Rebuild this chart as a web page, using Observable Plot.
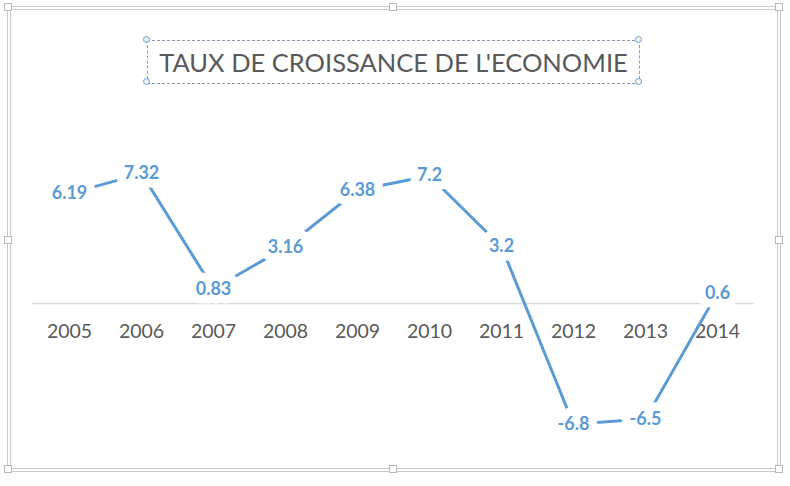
<!DOCTYPE html>
<html>
<head>
<meta charset="utf-8">
<script src="https://cdn.jsdelivr.net/npm/d3@7"></script>
<script src="https://cdn.jsdelivr.net/npm/@observablehq/plot@0.6"></script>
<style>
  html, body { margin: 0; padding: 0; background: #fff; }
  #wrap { position: relative; width: 790px; height: 486px; overflow: hidden; font-family: Lato, "Open Sans", sans-serif; }
  #chart { position: absolute; left: 0; top: 0; }
  #frame { position: absolute; left: 7px; top: 6px; width: 766px; height: 458px; border: 4px double #c9c9c9; }
  .h { position: absolute; width: 6px; height: 6px; background: #fff; border: 1px solid #b8b8b8; }
  #title { position: absolute; left: 147px; top: 40px; width: 491px; height: 42px; border: 1px dashed #8c99a8;
           color: #595959; font-size: 25.5px; line-height: 43px; text-align: center; white-space: nowrap; }
  .c { position: absolute; width: 5px; height: 5px; border-radius: 50%; background: #eef5fc; border: 1px solid #6a9ccf; }
</style>
</head>
<body>
<div id="wrap">
  <div id="chart"></div>
  <div id="frame"></div>
  <div class="h" style="left:4px;top:3px"></div>
  <div class="h" style="left:389px;top:3px"></div>
  <div class="h" style="left:775px;top:3px"></div>
  <div class="h" style="left:4px;top:236px"></div>
  <div class="h" style="left:775px;top:236px"></div>
  <div class="h" style="left:4px;top:465px"></div>
  <div class="h" style="left:389px;top:465px"></div>
  <div class="h" style="left:775px;top:465px"></div>
  <div id="title">TAUX DE CROISSANCE DE L'ECONOMIE</div>
  <div class="c" style="left:143px;top:36px"></div>
  <div class="c" style="left:635px;top:36px"></div>
  <div class="c" style="left:143px;top:78px"></div>
  <div class="c" style="left:635px;top:78px"></div>
</div>
<script>
const years = ["2005","2006","2007","2008","2009","2010","2011","2012","2013","2014"];
const growth = [6.19, 7.32, 0.83, 3.16, 6.38, 7.2, 3.2, -6.8, -6.5, 0.6];

const data = years.map((y, i) => ({year: y, value: growth[i]}));
const blue = "#5B9BD5";

const plot = Plot.plot({
  width: 790,
  height: 486,
  marginLeft: 32,
  marginRight: 36,
  marginTop: 161,
  marginBottom: 41,
  style: {fontFamily: "Lato, 'Open Sans', sans-serif", background: "transparent"},
  x: {type: "point", domain: years, padding: 0.5, axis: null},
  y: {domain: [-8, 8], axis: null},
  marks: [
    Plot.ruleY([0], {stroke: "#d9d9d9", strokeWidth: 1.6}),
    Plot.text(years, {x: d => d, y: () => 0, dy: 28, text: d => d, fill: "#595959", fontSize: 19.5}),
    Plot.line(data, {x: "year", y: "value", stroke: blue, strokeWidth: 3, curve: "linear"}),
    Plot.text(data, {x: "year", y: "value", text: d => String(d.value), fill: blue, fontWeight: "bold",
      fontSize: 18, stroke: "white", strokeWidth: 17, strokeLinejoin: "round"})
  ]
});
document.getElementById("chart").appendChild(plot);
</script>
</body>
</html>
